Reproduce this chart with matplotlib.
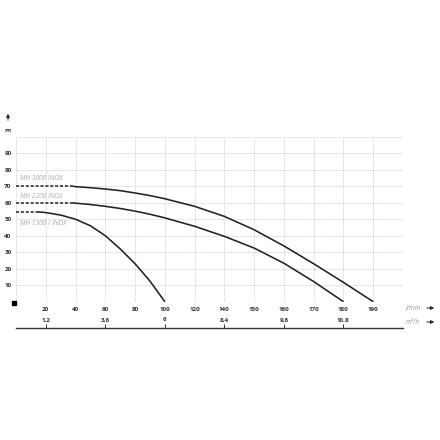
import numpy as np
import matplotlib
matplotlib.use("Agg")
import matplotlib.pyplot as plt

plt.rcParams['font.family'] = ['Open Sans', 'DejaVu Sans']

# Category axis (l/min) – evenly spaced labels
flow_ticks = [0, 20, 40, 60, 80, 100, 120, 140, 150, 160, 170, 180, 190]
flow_labels = ["20", "40", "60", "80", "100", "120", "140", "150", "160", "170", "180", "190"]
head_ticks = [10, 20, 30, 40, 50, 60, 70, 80, 90]
m3h_values = [1.2, 3.6, 6, 8.4, 9.6, 10.8]
m3h_labels = ["1,2", "3,6", "6", "8,4", "9,6", "10,8"]

# Curves: dashed (extrapolated) part and solid part, flow in l/min, head in m
mh3000_dash_q = [0, 38]
mh3000_dash_h = [70, 70]
mh3000_q = [38, 40, 50, 60, 70, 80, 90, 100, 120, 140, 150, 160, 170, 180, 190]
mh3000_h = [70, 69.7, 69.1, 68.3, 67.3, 65.9, 64.3, 62.4, 57.8, 51.7, 43.6, 33.8, 23.0, 11.7, 0]

mh2200_dash_q = [0, 38]
mh2200_dash_h = [60, 60]
mh2200_q = [38, 40, 50, 60, 70, 80, 90, 100, 120, 140, 150, 160, 170, 180]
mh2200_h = [60, 59.7, 58.9, 57.8, 56.5, 54.9, 53.0, 50.8, 45.7, 39.6, 32.5, 23.3, 12.2, 0]

mh1300_dash_q = [0, 14]
mh1300_dash_h = [54.5, 54.5]
mh1300_q = [14, 20, 30, 40, 50, 60, 70, 80, 90, 100]
mh1300_h = [54.5, 54, 52.5, 50, 46, 40, 32, 23, 12.5, 0]

series_names = ["MH 3000 INOX", "MH 2200 INOX", "MH 1300 / INOX"]
label_heads = [74.5, 64, 47.5]

positions = np.arange(len(flow_ticks))


def pos(q):
    return np.interp(q, flow_ticks, positions)


W, H = 440, 440
fig = plt.figure(figsize=(W / 100, H / 100), dpi=100)
x0, x1 = 16, 403
y_top, y_bot = 136.7, 301.7
ax = fig.add_axes([x0 / W, 1 - y_bot / H, (x1 - x0) / W, (y_bot - y_top) / H])
ax.set_xlim(0, 13)
ax.set_ylim(0, 100)
for s in ax.spines.values():
    s.set_visible(False)

grid_kw = dict(color='#c8c8c8', linestyle=(0, (1, 1)), linewidth=0.6, zorder=0)
for yv in range(0, 101, 10):
    ax.axhline(yv, **grid_kw)
for xv in range(0, 14):
    ax.axvline(xv, **grid_kw)

ax.set_xticks(positions[1:])
ax.set_xticklabels(flow_labels)
ax.set_yticks(head_ticks)
ax.set_yticklabels([str(v) for v in head_ticks])
ax.tick_params(length=0, labelsize=4.5, colors='#333333', pad=4)
for lab in ax.get_xticklabels() + ax.get_yticklabels():
    lab.set_fontweight('bold')
for lab in ax.get_yticklabels():
    lab.set_horizontalalignment('center')
ax.tick_params(axis='y', pad=5.8)

line_kw = dict(color='#222222', linewidth=1.15, solid_capstyle='butt', solid_joinstyle='round')
dash_kw = dict(color='#222222', linewidth=1.1, linestyle=(0, (2, 1.2)))
for dq, dh, q, h in [(mh3000_dash_q, mh3000_dash_h, mh3000_q, mh3000_h),
                     (mh2200_dash_q, mh2200_dash_h, mh2200_q, mh2200_h),
                     (mh1300_dash_q, mh1300_dash_h, mh1300_q, mh1300_h)]:
    ax.plot(pos(dq), dh, **dash_kw)
    ax.plot(pos(q), h, **line_kw)

for name, hy in zip(series_names, label_heads):
    ax.text(0.13, hy, name, fontsize=4.8, style='italic', color='#ababab',
            ha='left', va='center')

# black square at origin
ax.plot([-0.07], [-0.5], marker='s', markersize=2.8, color='black', clip_on=False)

# Secondary m3/h axis line
y2 = 328
ax2 = fig.add_axes([x0 / W, 1 - y2 / H - 0.001, (x1 - x0) / W, 0.001])
ax2.set_xlim(0, 13)
for k, s in ax2.spines.items():
    s.set_visible(k == 'top')
ax2.spines['top'].set_color('#333333')
ax2.spines['top'].set_linewidth(1.0)
ax2.set_yticks([])
ax2.xaxis.tick_top()
ax2.set_xticks(pos(np.array(m3h_values) * 1000 / 60))
ax2.set_xticklabels(m3h_labels)
ax2.tick_params(axis='x', direction='out', length=3, width=0.7, colors='#333333',
                labelsize=4.5, pad=1)
for lab in ax2.get_xticklabels():
    lab.set_fontweight('bold')

# unit labels and arrows
def px(x, y):
    return x / W, 1 - y / H

fig.text(*px(406, 308), "l/min", fontsize=4.8, style='italic', color='#999999',
         ha='left', va='center')
fig.text(*px(406, 322), "m³/h", fontsize=4.8, style='italic', color='#999999',
         ha='left', va='center')
for yy in (308, 322):
    fig.add_artist(matplotlib.patches.FancyArrowPatch(px(424, yy), px(437, yy),
                   transform=fig.transFigure, arrowstyle='-|>', mutation_scale=5,
                   color='#222222', linewidth=0.7))
fig.add_artist(matplotlib.patches.FancyArrowPatch(px(8, 123), px(8, 111),
               transform=fig.transFigure, arrowstyle='-|>', mutation_scale=5,
               color='#222222', linewidth=0.7))
fig.text(*px(8, 131), "m", fontsize=4.5, fontweight='bold', color='#333333',
         ha='center', va='center')

fig.savefig("out.png", dpi=100, facecolor='white')
